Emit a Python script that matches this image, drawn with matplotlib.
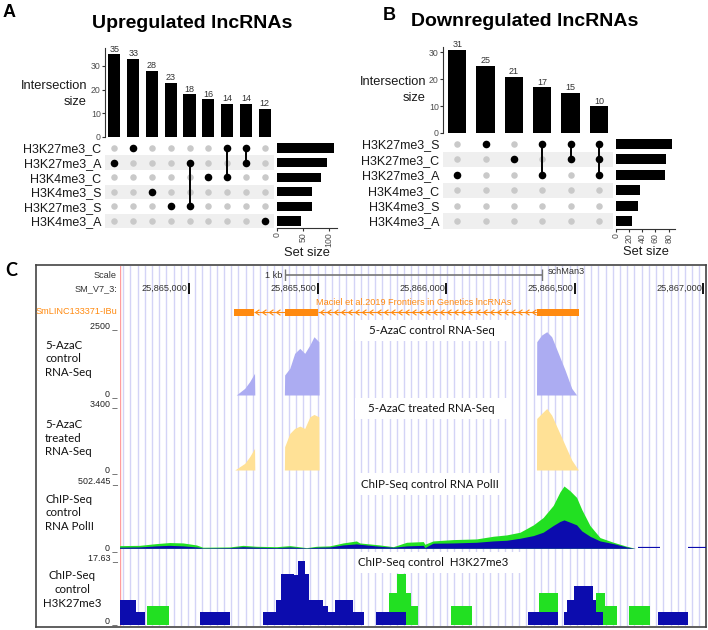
import numpy as np
import matplotlib
matplotlib.use("Agg")
import matplotlib.pyplot as plt
from matplotlib.patches import Rectangle
from matplotlib.path import Path

# ------------------------------------------------------------------ data
up_sets = ['H3K27me3_C', 'H3K27me3_A', 'H3K4me3_C', 'H3K4me3_S', 'H3K27me3_S', 'H3K4me3_A']
up_set_sizes = [110, 97, 85, 68, 67, 45]
up_inter_sizes = [35, 33, 28, 23, 18, 16, 14, 14, 12]
up_members = [['H3K27me3_A'], ['H3K27me3_C'], ['H3K4me3_S'], ['H3K27me3_S'],
              ['H3K27me3_A', 'H3K27me3_S'], ['H3K4me3_C'], ['H3K27me3_C', 'H3K4me3_C'],
              ['H3K27me3_C', 'H3K27me3_A'], ['H3K4me3_A']]

down_sets = ['H3K27me3_S', 'H3K27me3_C', 'H3K27me3_A', 'H3K4me3_C', 'H3K4me3_S', 'H3K4me3_A']
down_set_sizes = [85, 76, 74, 36, 33, 24]
down_inter_sizes = [31, 25, 21, 17, 15, 10]
down_members = [['H3K27me3_A'], ['H3K27me3_S'], ['H3K27me3_C'],
                ['H3K27me3_S', 'H3K27me3_A'], ['H3K27me3_S', 'H3K27me3_C'],
                ['H3K27me3_S', 'H3K27me3_C', 'H3K27me3_A']]

# genome browser (SM_V7_3)
view_start, view_end = 25864730, 25867010
pos_ticks = [25865000, 25865500, 25866000, 25866500, 25867000]
scale_bar_start, scale_bar_len = 25865372, 1000
exon_starts = [25865177, 25865372, 25866352]
exon_ends = [25865251, 25865503, 25866518]

ctrl_pos = [25865184, 25865217, 25865236, 25865255, 25865256,
            25865371, 25865372, 25865392, 25865411, 25865431, 25865450, 25865470, 25865486, 25865505, 25865506,
            25866351, 25866352, 25866371, 25866391, 25866410, 25866436, 25866462, 25866488, 25866507]
ctrl_val = [0, 242, 483, 785, 0,
            0, 725, 966, 1509, 1690, 1509, 1810, 2111, 1930, 0,
            0, 1930, 2172, 2293, 2111, 1509, 905, 241, 0]

trt_pos = [25865178, 25865217, 25865236, 25865255, 25865256,
           25865371, 25865372, 25865392, 25865411, 25865431, 25865450, 25865470, 25865486, 25865505, 25865506,
           25866351, 25866352, 25866371, 25866391, 25866410, 25866436, 25866462, 25866488, 25866514]
trt_val = [0, 340, 680, 1105, 0,
           0, 1190, 1870, 2125, 2244, 2125, 2720, 2840, 2720, 0,
           0, 2635, 2890, 3145, 2805, 2040, 1275, 510, 0]

pol_pos = [25864730, 25864808, 25864873, 25864925, 25864977, 25865029, 25865054, 25865158, 25865210,
           25865262, 25865340, 25865392, 25865457, 25865496, 25865547, 25865599, 25865651, 25865664,
           25865742, 25865794, 25865846, 25865911, 25865917, 25865949, 25866027, 25866118, 25866183,
           25866235, 25866287, 25866339, 25866377, 25866416, 25866442, 25866458, 25866481, 25866507,
           25866527, 25866559, 25866598, 25866650, 25866702, 25866734]
pol_green = [20, 22, 35, 43, 40, 25, 8, 10, 22, 15, 12, 20, 5, 15, 18, 40, 55, 40, 25, 12, 45,
             50, 30, 55, 65, 70, 90, 100, 120, 175, 230, 320, 420, 465, 430, 380, 290, 170, 80, 45, 15, 0]
pol_blue = [8, 10, 18, 22, 18, 10, 3, 5, 12, 8, 5, 10, 3, 8, 10, 25, 33, 30, 15, 8, 18,
            22, 5, 38, 40, 45, 55, 60, 75, 95, 120, 170, 200, 212, 195, 175, 130, 90, 55, 35, 10, 0]
pol_low_start = [25866747, 25866940]
pol_low_end = [25866833, 25867010]
pol_low_val = [4, 4]

k27_blue_start = [25864730, 25864795, 25865044, 25865288, 25865337, 25865356, 25865409, 25865422,
                  25865451, 25865467, 25865521, 25865539, 25865567, 25865638, 25865729, 25866318,
                  25866459, 25866471, 25866498, 25866572, 25866582, 25866822]
k27_blue_end = [25864795, 25864828, 25865161, 25865337, 25865356, 25865409, 25865422, 25865451,
                25865467, 25865521, 25865539, 25865567, 25865638, 25865681, 25865843, 25866436,
                25866471, 25866498, 25866572, 25866582, 25866611, 25866939]
k27_blue_val = [6.8, 3.4, 3.4, 3.4, 6.6, 13.7, 13.4, 17.1, 13.7, 6.6, 5.0, 3.4, 6.6, 3.4, 3.4, 3.4,
                3.4, 6.8, 10.4, 6.8, 3.4, 3.4]
k27_green_start = [25864838, 25865778, 25865807, 25865843, 25865863, 25866017, 25866361, 25866582,
                   25866617, 25866712]
k27_green_end = [25864922, 25865807, 25865843, 25865863, 25865889, 25866099, 25866436, 25866617,
                 25866665, 25866793]
k27_green_val = [5.15, 8.6, 13.6, 8.6, 5.15, 5.15, 8.6, 8.6, 5.15, 5.15]

# ------------------------------------------------------------------ helpers
W, H = 708, 630
fig = plt.figure(figsize=(W / 100, H / 100), dpi=100)
fig.patch.set_facecolor('white')

SANS = ['Liberation Sans', 'DejaVu Sans']
NARROW = ['Liberation Sans Narrow', 'Liberation Sans', 'DejaVu Sans']
CAL = ['Lato', 'DejaVu Sans']


def add_ax(x0, y0, x1, y1, **kw):
    return fig.add_axes([x0 / W, 1 - y1 / H, (x1 - x0) / W, (y1 - y0) / H], **kw)


def ftext(x, y, s, **kw):
    return fig.text(x / W, 1 - y / H, s, **kw)


# ------------------------------------------------------------------ UpSet panels
def draw_upset(sets, set_sizes, inter_sizes, members, lay):
    n, m = len(inter_sizes), len(sets)
    L, R = lay['L'], lay['R']
    xs = np.arange(n)
    axb = add_ax(L, lay['bar_top'], R, lay['bar_bot'])
    axb.bar(xs, inter_sizes, width=0.64, color='black')
    for xi, v in zip(xs, inter_sizes):
        axb.text(xi, v + lay['ymax'] * 0.005, str(v), ha='center', va='bottom',
                 fontsize=6.5, color='#333333', family=SANS)
    axb.set_xlim(-0.5, n - 0.5)
    axb.set_ylim(0, lay['ymax'])
    for s in ['top', 'right', 'bottom']:
        axb.spines[s].set_visible(False)
    axb.spines['left'].set_color('#333333')
    axb.spines['left'].set_linewidth(0.8)
    axb.set_xticks([])
    axb.set_yticks(lay['yticks'])
    axb.tick_params(axis='y', labelsize=6.3, labelcolor='#4d4d4d', length=2, width=0.8,
                    color='#333333', pad=1)
    for t in axb.get_yticklabels():
        t.set_family(SANS)
    axb.patch.set_alpha(0)

    axm = add_ax(L, lay['mat_top'], R, lay['mat_bot'])
    axm.set_xlim(-0.5, n - 0.5)
    axm.set_ylim(m - 0.5, -0.5)
    for i in range(1, m, 2):
        axm.axhspan(i - 0.5, i + 0.5, color='#efefef', lw=0, zorder=0)
    gx, gy = np.meshgrid(xs, np.arange(m))
    axm.scatter(gx.ravel(), gy.ravel(), s=22, color='#c9c9c9', lw=0, zorder=2)
    for xi, mem in zip(xs, members):
        rows = [sets.index(s) for s in mem]
        if len(rows) > 1:
            axm.plot([xi, xi], [min(rows), max(rows)], color='black', lw=1.4, zorder=3)
        axm.scatter([xi] * len(rows), rows, s=30, color='black', lw=0, zorder=4)
    axm.set_xticks([])
    axm.set_yticks(range(m))
    axm.set_yticklabels(sets, fontsize=9, family=SANS, color='#1a1a1a')
    axm.tick_params(length=0, pad=2.5)
    for s in axm.spines.values():
        s.set_visible(False)

    axs = add_ax(lay['S0'], lay['mat_top'], lay['S1'], lay['mat_bot'])
    axs.barh(np.arange(m), set_sizes, height=0.64, color='black')
    axs.set_ylim(m - 0.5, -0.5)
    axs.set_xlim(0, lay['smax'])
    axs.set_yticks([])
    axs.set_xticks(lay['sticks'])
    axs.tick_params(axis='x', labelsize=6.3, labelcolor='#4d4d4d', labelrotation=90,
                    length=2, width=0.8, color='#333333', pad=1)
    for t in axs.get_xticklabels():
        t.set_family(SANS)
    for s in ['top', 'right', 'left']:
        axs.spines[s].set_visible(False)
    axs.spines['bottom'].set_color('#333333')
    axs.spines['bottom'].set_linewidth(0.8)
    axs.patch.set_alpha(0)

    ftext(lay['ilab_x'], lay['ilab_y'], 'Intersection\nsize', ha='right', va='center',
          multialignment='right', fontsize=9.3, family=SANS, color='#1a1a1a', linespacing=1.55)
    ftext(lay['slab_x'], lay['slab_y'], 'Set size', ha='center', va='center',
          fontsize=9.3, family=SANS, color='#1a1a1a')


layA = dict(L=105, R=274, bar_top=137 - 37.5 * 2.367, bar_bot=137, ymax=37.5, yticks=[0, 10, 20, 30],
            mat_top=140.7, mat_bot=228.3, S0=277.3, S1=336.8, smax=115, sticks=[0, 50, 100],
            ilab_x=87, ilab_y=94, slab_x=307, slab_y=253)
layB = dict(L=443, R=613, bar_top=133 - 32 * 2.69, bar_bot=133, ymax=32, yticks=[0, 10, 20, 30],
            mat_top=136.3, mat_bot=228.7, S0=615.7, S1=674.7, smax=89, sticks=[0, 20, 40, 60, 80],
            ilab_x=426, ilab_y=90, slab_x=646, slab_y=252)

draw_upset(up_sets, up_set_sizes, up_inter_sizes, up_members, layA)
draw_upset(down_sets, down_set_sizes, down_inter_sizes, down_members, layB)

ftext(192, 23, 'Upregulated lncRNAs', ha='center', va='center', fontsize=14, fontweight='bold', family=SANS)
ftext(525, 22, 'Downregulated lncRNAs', ha='center', va='center', fontsize=14, fontweight='bold', family=SANS)
ftext(9, 12.5, 'A', ha='center', va='center', fontsize=13, fontweight='bold', family=SANS)
ftext(389, 15, 'B', ha='center', va='center', fontsize=13, fontweight='bold', family=SANS)
ftext(11, 270, 'C', ha='center', va='center', fontsize=13, fontweight='bold', family=CAL)

# ------------------------------------------------------------------ genome browser panel
LAV = '#acacf2'
YEL = '#ffe196'
GREEN = '#22e022'
BLUE = '#0c0cae'
ORANGE = '#ff8a10'
GUIDE = '#d4d4f6'
X0, X1 = 119.5, 706

axf = add_ax(36, 265, 706, 627)
axf.set_xticks([])
axf.set_yticks([])
for s in axf.spines.values():
    s.set_color('#444444')
    s.set_linewidth(1.2)

axd = add_ax(X0, 266, X1, 626)
axd.set_xlim(view_start, view_end)
axd.set_ylim(626, 266)
axd.axis('off')
axd.patch.set_alpha(0)
for g in np.arange(view_start + 14, view_end, 28):
    axd.axvline(g, color=GUIDE, lw=1.0, zorder=1)
axd.axvline(view_start, color='#ff9c9c', lw=1.0, zorder=2)

axp = add_ax(X0, 266, X1, 626)
axp.set_xlim(X0, X1)
axp.set_ylim(626, 266)
axp.axis('off')
axp.patch.set_alpha(0)
for (bx0, by0, bx1, by1) in [(355, 320, 508, 341), (355, 398, 508, 419),
                             (360, 473, 503, 495), (360, 552, 523, 573)]:
    axp.add_patch(Rectangle((bx0, by0), bx1 - bx0, by1 - by0, facecolor='white', edgecolor='none', zorder=2))

# ruler
axr = add_ax(X0, 282, X1, 295)
axr.set_xlim(view_start, view_end)
axr.set_ylim(0, 1)
axr.axis('off')
axr.patch.set_alpha(0)
axr.vlines(pos_ticks, 0.05, 0.95, color='black', lw=1.3)
for p in pos_ticks:
    axr.annotate(f'{p:,}', (p, 0.5), xytext=(-0.8, 0), textcoords='offset points',
                 ha='right', va='center', fontsize=6.6, family=NARROW, color='#333333')

# scale bar
axsb = add_ax(X0, 269, X1, 281)
axsb.set_xlim(view_start, view_end)
axsb.set_ylim(0, 1)
axsb.axis('off')
axsb.patch.set_alpha(0)
sb_end = scale_bar_start + scale_bar_len
axsb.hlines(0.5, scale_bar_start, sb_end, color='#777777', lw=1.2)
axsb.vlines([scale_bar_start, sb_end], 0.0, 1.0, color='#777777', lw=1.0)
axsb.annotate('1 kb', (scale_bar_start, 0.5), xytext=(-1.5, 0), textcoords='offset points',
              ha='right', va='center', fontsize=6.6, family=NARROW, color='#333333')
axsb.annotate('schMan3', (sb_end, 0.75), xytext=(4, 0), textcoords='offset points',
              ha='left', va='center', fontsize=6.6, family=NARROW, color='#333333')

ftext(117, 275, 'Scale', ha='right', va='center', fontsize=6.6, family=NARROW, color='#333333')
ftext(117, 289, 'SM_V7_3:', ha='right', va='center', fontsize=6.6, family=NARROW, color='#333333')

# gene model
axg = add_ax(X0, 300, X1, 322)
axg.set_xlim(view_start, view_end)
axg.set_ylim(322, 300)
axg.axis('off')
axg.patch.set_alpha(0)
axg.broken_barh([(s, e - s) for s, e in zip(exon_starts, exon_ends)], (308.5, 7), facecolor=ORANGE, lw=0)
chev = Path([(0.5, 0.7), (-0.5, 0.0), (0.5, -0.7)], [Path.MOVETO, Path.LINETO, Path.LINETO])
for e, s in zip(exon_ends[:-1], exon_starts[1:]):
    axg.hlines(312, e, s, color=ORANGE, lw=0.8)
    cx = np.arange(e + 14, s - 6, 27.5)
    axg.plot(cx, np.full(len(cx), 312.0), ls='none', marker=chev, ms=4, mew=0.8,
             mec=ORANGE, mfc='none')
ftext(414, 302, 'Maciel et al.2019 Frontiers in Genetics lncRNAs', ha='center', va='center',
      fontsize=6.6, family=NARROW, color=ORANGE)
ftext(117, 312, 'SmLINC133371-IBu', ha='right', va='center', fontsize=6.6, family=NARROW, color=ORANGE)


def track(top, bot, ymax):
    ax = add_ax(X0, top, X1, bot)
    ax.set_xlim(view_start, view_end)
    ax.set_ylim(0, ymax)
    ax.axis('off')
    ax.patch.set_alpha(0)
    return ax


ax1 = track(326, 395, 2500)
ax1.fill_between(ctrl_pos, ctrl_val, color=LAV, lw=0)
ax2 = track(403.5, 470, 3400)
ax2.fill_between(trt_pos, trt_val, color=YEL, lw=0)
ax3 = track(481, 548.3, 502.445)
ax3.fill_between(pol_pos, pol_green, color=GREEN, lw=0)
ax3.fill_between(pol_pos, pol_blue, color=BLUE, lw=0)
ax3.hlines(pol_low_val, pol_low_start, pol_low_end, color=BLUE, lw=1.6)
ax4 = track(559, 625, 17.63)
ax4.bar(k27_green_start, k27_green_val, width=np.array(k27_green_end) - np.array(k27_green_start),
        align='edge', color=GREEN, lw=0)
ax4.bar(k27_blue_start, k27_blue_val, width=np.array(k27_blue_end) - np.array(k27_blue_start),
        align='edge', color=BLUE, lw=0)

for (y, s) in [(325.7, '2500 _'), (393.3, '0 _'), (403.3, '3400 _'), (469.5, '0 _'),
               (480.7, '502.445 _'), (547.3, '0 _'), (557.7, '17.63 _'), (621, '0 _')]:
    ftext(117.5, y, s, ha='right', va='center', fontsize=6.4, family=NARROW, color='#222222')

ftext(45, 359, '5-AzaC\ncontrol\nRNA-Seq', ha='left', va='center', fontsize=8.3, family=CAL,
      linespacing=1.32, color='#111111')
ftext(45, 438, '5-AzaC\ntreated\nRNA-Seq', ha='left', va='center', fontsize=8.3, family=CAL,
      linespacing=1.32, color='#111111')
ftext(45, 513, 'ChIP-Seq\ncontrol\nRNA PolII', ha='left', va='center', fontsize=8.3, family=CAL,
      linespacing=1.32, color='#111111')
ftext(72, 589.5, 'ChIP-Seq\ncontrol\nH3K27me3', ha='center', va='center', multialignment='center',
      fontsize=8.3, family=CAL, linespacing=1.32, color='#111111')

ftext(432, 331, '5-AzaC control RNA-Seq', ha='center', va='center', fontsize=8.3, family=CAL, color='#111111')
ftext(431, 409, '5-AzaC treated RNA-Seq', ha='center', va='center', fontsize=8.3, family=CAL, color='#111111')
ftext(430, 485, 'ChIP-Seq control RNA PolII', ha='center', va='center', fontsize=8.3, family=CAL, color='#111111')
ftext(433, 563, 'ChIP-Seq control  H3K27me3', ha='center', va='center', fontsize=8.3, family=CAL, color='#111111')

fig.savefig('out.png', dpi=100, facecolor='white')
